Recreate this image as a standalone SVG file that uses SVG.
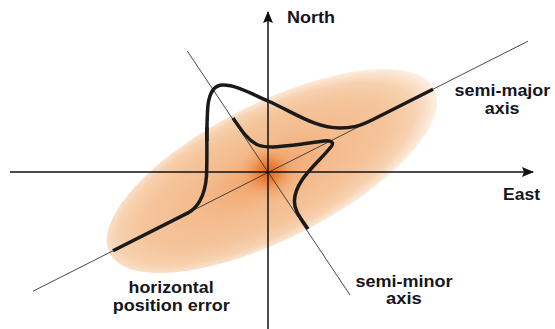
<svg xmlns="http://www.w3.org/2000/svg" width="555" height="329" viewBox="0 0 555 329">
  <defs>
    <radialGradient id="ellGrad" cx="0.48" cy="0.5" r="0.52">
      <stop offset="0" stop-color="#ef9855"/>
      <stop offset="0.15" stop-color="#f2ab74"/>
      <stop offset="0.4" stop-color="#f4bb8d"/>
      <stop offset="0.7" stop-color="#f5c49b"/>
      <stop offset="0.86" stop-color="#f7d1af"/>
      <stop offset="0.96" stop-color="#fbe6d3"/>
      <stop offset="1" stop-color="#fdf1e6"/>
    </radialGradient>
    <radialGradient id="hotGrad" cx="0.5" cy="0.5" r="0.5">
      <stop offset="0" stop-color="#e25e02" stop-opacity="1"/>
      <stop offset="0.35" stop-color="#e9772a" stop-opacity="0.7"/>
      <stop offset="0.7" stop-color="#ef985c" stop-opacity="0.3"/>
      <stop offset="1" stop-color="#f2ab74" stop-opacity="0"/>
    </radialGradient>
    <marker id="arrow" viewBox="0 0 12 10" refX="11" refY="5" markerWidth="12" markerHeight="10" markerUnits="userSpaceOnUse" orient="auto">
      <path d="M0,0 L12,5 L0,10 L2,5 Z" fill="#111"/>
    </marker>
    <style>
      .axis { stroke: #111; stroke-width: 1.5; fill: none; }
      .thin { stroke: #333; stroke-width: 0.9; fill: none; }
      .curve { stroke: #1a1a1a; stroke-width: 3.5; fill: none; stroke-linecap: butt; stroke-linejoin: round; }
      .lbl { font-family: "Liberation Sans", Arial, sans-serif; font-weight: bold; font-size: 16px; fill: #151520; }
    </style>
  </defs>

  <g id="ellipse">
    <ellipse cx="272" cy="171" rx="182" ry="68" transform="rotate(-26.8 272 171)" fill="url(#ellGrad)"/>
    <circle cx="268" cy="172" r="30" fill="url(#hotGrad)"/>
  </g>

  <g id="connectors">
    <line class="thin" x1="33" y1="291.2" x2="528" y2="41.2"/>
    <line class="thin" x1="187.3" y1="51" x2="350" y2="295"/>
    <line class="axis" x1="10" y1="172" x2="533" y2="172" marker-end="url(#arrow)"/>
    <line class="axis" x1="268" y1="329" x2="268" y2="12" marker-end="url(#arrow)"/>
  </g>

  <g id="curves">
    <path class="curve" d="M113,250.8 L188,212.9 C196,208.9 205,198 206.5,176 C207.5,155 206,125 208,105 C209.5,93 214,85 223,85 C236,85 250,93 268,101 C295,113 315,128 340,128 C350,128 358,127 372,120 L433,89.2"/>
    <path class="curve" stroke-width="4.6" d="M206.8,127 L206.9,141"/>
    <path class="curve" d="M233,118 C240,128 247,140 258,145 C263,147 268,147 273,147 C290,146 310,143 324,141 C332,140 335,143 330,148 C322,158 310,168 302,180 C294,192 292,202 297,212 C300,218 304,223 308,229"/>
  </g>

  <g id="labels">
    <text class="lbl" x="287" y="22.7" textLength="48" lengthAdjust="spacingAndGlyphs">North</text>
    <text class="lbl" x="503" y="199.5" textLength="37" lengthAdjust="spacingAndGlyphs">East</text>
    <text class="lbl" x="454.6" y="96" textLength="95.7" lengthAdjust="spacingAndGlyphs">semi-major</text>
    <text class="lbl" x="484.8" y="114" textLength="34.7" lengthAdjust="spacingAndGlyphs">axis</text>
    <text class="lbl" x="355.4" y="286.7" textLength="97" lengthAdjust="spacingAndGlyphs">semi-minor</text>
    <text class="lbl" x="386" y="303.5" textLength="35.7" lengthAdjust="spacingAndGlyphs">axis</text>
    <text class="lbl" x="128.6" y="292.7" textLength="85" lengthAdjust="spacingAndGlyphs">horizontal</text>
    <text class="lbl" x="112.7" y="310.7" textLength="117" lengthAdjust="spacingAndGlyphs">position error</text>
  </g>
</svg>
